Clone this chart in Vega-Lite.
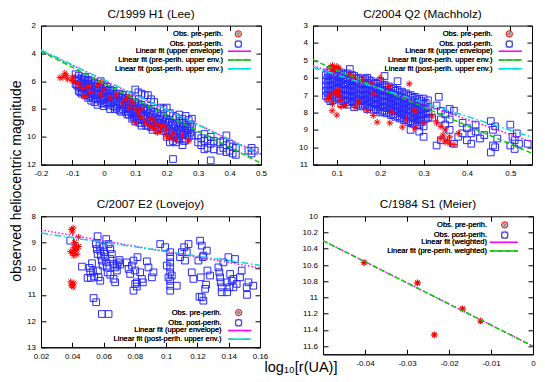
{
"$schema": "https://vega.github.io/schema/vega-lite/v6.json",
"background": "white",
"padding": {"left": 9, "top": 7.6, "right": 0, "bottom": 0},
"config": {
  "font": "Liberation Sans",
  "view": {"stroke": "#000000", "strokeWidth": 1},
  "axis": {"domainColor": "#000000", "domainWidth": 1, "tickColor": "#000000", "tickWidth": 1, "tickSize": -5, "labelColor": "#000000", "labelFontSize": 8, "labelFont": "Liberation Sans", "labelFlush": false, "labelOverlap": false, "labelBound": false, "grid": false, "titleFontWeight": "normal", "titleColor": "#000000", "titleFont": "Liberation Sans"},
  "axisX": {"labelPadding": 10},
  "axisY": {"labelPadding": 10.5},
  "legend": {"labelFontSize": 7.5, "labelColor": "#000000", "labelFont": "Liberation Sans", "labelFontWeight": "normal", "labelAlign": "right", "padding": 0, "rowPadding": 0.67, "symbolStrokeWidth": 1, "orient": "none"},
  "title": {"fontSize": 11.8, "fontWeight": "normal", "color": "#000000", "anchor": "middle", "baseline": "alphabetic", "offset": 1, "font": "Liberation Sans"}
},
"datasets": {
"d1": [
{"x":-0.14,"y":5.75,"s":"pre"},{"x":-0.13,"y":5.72,"s":"pre"},{"x":-0.12,"y":5.6,"s":"pre"},{"x":-0.124,"y":5.43,"s":"pre"},{"x":-0.115,"y":5.85,"s":"pre"},{"x":-0.1,"y":5.7,"s":"pre"},{"x":-0.1,"y":5.95,"s":"pre"},{"x":-0.09,"y":6.1,"s":"pre"},{"x":-0.08,"y":6.2,"s":"pre"},{"x":-0.07,"y":6.5,"s":"pre"},{"x":-0.06,"y":7.1,"s":"pre"},{"x":-0.05,"y":6.4,"s":"pre"},{"x":-0.04,"y":6.8,"s":"pre"},{"x":-0.02,"y":6.3,"s":"pre"},{"x":-0.01,"y":6.08,"s":"pre"},{"x":-0.01,"y":7.0,"s":"pre"},{"x":0.0,"y":6.6,"s":"pre"},{"x":0.02,"y":7.2,"s":"pre"},{"x":0.04,"y":7.0,"s":"pre"},{"x":0.06,"y":7.6,"s":"pre"},{"x":0.07,"y":7.3,"s":"pre"},{"x":0.08,"y":7.9,"s":"pre"},{"x":0.08,"y":7.1,"s":"pre"},{"x":0.09,"y":7.5,"s":"pre"},{"x":0.1,"y":9.0,"s":"pre"},{"x":0.1,"y":8.0,"s":"pre"},{"x":0.11,"y":8.3,"s":"pre"},{"x":0.12,"y":8.6,"s":"pre"},{"x":0.12,"y":8.0,"s":"pre"},{"x":0.13,"y":8.9,"s":"pre"},{"x":0.14,"y":9.1,"s":"pre"},{"x":0.15,"y":9.3,"s":"pre"},{"x":0.15,"y":8.7,"s":"pre"},{"x":0.16,"y":9.4,"s":"pre"},{"x":0.16,"y":8.9,"s":"pre"},{"x":0.17,"y":9.7,"s":"pre"},{"x":0.17,"y":9.1,"s":"pre"},{"x":0.18,"y":9.6,"s":"pre"},{"x":0.18,"y":9.3,"s":"pre"},{"x":0.19,"y":9.2,"s":"pre"},{"x":0.2,"y":9.5,"s":"pre"},{"x":0.2,"y":10.0,"s":"pre"},{"x":0.21,"y":10.1,"s":"pre"},{"x":0.22,"y":9.8,"s":"pre"},{"x":0.23,"y":10.2,"s":"pre"},{"x":0.25,"y":9.9,"s":"pre"},{"x":0.27,"y":10.3,"s":"pre"},
{"x":-0.09,"y":5.5,"s":"post"},{"x":-0.09,"y":5.9,"s":"post"},{"x":-0.09,"y":6.2,"s":"post"},
{"x":-0.085,"y":5.8,"s":"post"},{"x":-0.085,"y":6.3,"s":"post"},
{"x":-0.08,"y":5.6,"s":"post"},{"x":-0.08,"y":6.0,"s":"post"},{"x":-0.08,"y":6.4,"s":"post"},{"x":-0.08,"y":6.7,"s":"post"},
{"x":-0.075,"y":6.3,"s":"post"},{"x":-0.075,"y":6.8,"s":"post"},
{"x":-0.07,"y":5.8,"s":"post"},{"x":-0.07,"y":6.1,"s":"post"},{"x":-0.07,"y":6.5,"s":"post"},{"x":-0.07,"y":6.9,"s":"post"},
{"x":-0.065,"y":5.9,"s":"post"},{"x":-0.065,"y":6.4,"s":"post"},{"x":-0.065,"y":6.8,"s":"post"},
{"x":-0.06,"y":5.7,"s":"post"},{"x":-0.06,"y":6.2,"s":"post"},{"x":-0.06,"y":6.6,"s":"post"},{"x":-0.06,"y":7.0,"s":"post"},
{"x":-0.055,"y":6.0,"s":"post"},{"x":-0.055,"y":6.9,"s":"post"},
{"x":-0.05,"y":5.9,"s":"post"},{"x":-0.05,"y":6.3,"s":"post"},{"x":-0.05,"y":6.8,"s":"post"},{"x":-0.05,"y":7.2,"s":"post"},
{"x":-0.045,"y":6.2,"s":"post"},{"x":-0.045,"y":6.6,"s":"post"},{"x":-0.045,"y":7.1,"s":"post"},
{"x":-0.04,"y":6.0,"s":"post"},{"x":-0.04,"y":6.4,"s":"post"},{"x":-0.04,"y":6.9,"s":"post"},{"x":-0.04,"y":7.4,"s":"post"},
{"x":-0.035,"y":6.3,"s":"post"},{"x":-0.035,"y":7.2,"s":"post"},
{"x":-0.03,"y":6.1,"s":"post"},{"x":-0.03,"y":6.6,"s":"post"},{"x":-0.03,"y":7.0,"s":"post"},{"x":-0.03,"y":7.5,"s":"post"},
{"x":-0.025,"y":6.4,"s":"post"},{"x":-0.025,"y":6.9,"s":"post"},{"x":-0.025,"y":7.3,"s":"post"},
{"x":-0.02,"y":6.2,"s":"post"},{"x":-0.02,"y":6.7,"s":"post"},{"x":-0.02,"y":7.2,"s":"post"},{"x":-0.02,"y":7.7,"s":"post"},
{"x":-0.015,"y":6.5,"s":"post"},{"x":-0.015,"y":7.0,"s":"post"},
{"x":-0.01,"y":6.0,"s":"post"},{"x":-0.01,"y":6.5,"s":"post"},{"x":-0.01,"y":6.9,"s":"post"},{"x":-0.01,"y":7.4,"s":"post"},
{"x":-0.005,"y":6.7,"s":"post"},{"x":-0.005,"y":7.2,"s":"post"},{"x":-0.005,"y":7.6,"s":"post"},
{"x":0.0,"y":6.3,"s":"post"},{"x":0.0,"y":6.8,"s":"post"},{"x":0.0,"y":7.3,"s":"post"},{"x":0.0,"y":7.8,"s":"post"},
{"x":0.005,"y":6.6,"s":"post"},{"x":0.005,"y":7.1,"s":"post"},{"x":0.005,"y":7.6,"s":"post"},
{"x":0.01,"y":6.4,"s":"post"},{"x":0.01,"y":6.9,"s":"post"},{"x":0.01,"y":7.5,"s":"post"},
{"x":0.015,"y":6.7,"s":"post"},{"x":0.015,"y":7.2,"s":"post"},{"x":0.015,"y":7.7,"s":"post"},
{"x":0.02,"y":6.6,"s":"post"},{"x":0.02,"y":7.1,"s":"post"},{"x":0.02,"y":7.6,"s":"post"},{"x":0.02,"y":8.0,"s":"post"},
{"x":0.025,"y":6.9,"s":"post"},{"x":0.025,"y":7.4,"s":"post"},
{"x":0.03,"y":6.7,"s":"post"},{"x":0.03,"y":7.2,"s":"post"},{"x":0.03,"y":7.8,"s":"post"},
{"x":0.035,"y":7.0,"s":"post"},{"x":0.035,"y":7.5,"s":"post"},{"x":0.035,"y":8.0,"s":"post"},
{"x":0.04,"y":6.9,"s":"post"},{"x":0.04,"y":7.4,"s":"post"},{"x":0.04,"y":7.9,"s":"post"},
{"x":0.045,"y":7.1,"s":"post"},{"x":0.045,"y":7.7,"s":"post"},
{"x":0.05,"y":6.9,"s":"post"},{"x":0.05,"y":7.5,"s":"post"},{"x":0.05,"y":8.1,"s":"post"},
{"x":0.055,"y":7.2,"s":"post"},{"x":0.055,"y":7.7,"s":"post"},{"x":0.055,"y":8.2,"s":"post"},
{"x":0.06,"y":7.0,"s":"post"},{"x":0.06,"y":7.6,"s":"post"},{"x":0.06,"y":8.0,"s":"post"},
{"x":0.065,"y":7.3,"s":"post"},{"x":0.065,"y":7.9,"s":"post"},
{"x":0.07,"y":7.2,"s":"post"},{"x":0.07,"y":7.7,"s":"post"},{"x":0.07,"y":8.2,"s":"post"},
{"x":0.075,"y":7.4,"s":"post"},{"x":0.075,"y":7.9,"s":"post"},{"x":0.075,"y":8.4,"s":"post"},
{"x":0.08,"y":7.0,"s":"post"},{"x":0.08,"y":7.5,"s":"post"},{"x":0.08,"y":8.0,"s":"post"},{"x":0.08,"y":8.4,"s":"post"},
{"x":0.085,"y":7.7,"s":"post"},{"x":0.085,"y":8.2,"s":"post"},
{"x":0.09,"y":7.3,"s":"post"},{"x":0.09,"y":7.8,"s":"post"},{"x":0.09,"y":8.3,"s":"post"},{"x":0.09,"y":8.7,"s":"post"},
{"x":0.095,"y":7.6,"s":"post"},{"x":0.095,"y":8.1,"s":"post"},{"x":0.095,"y":8.6,"s":"post"},
{"x":0.1,"y":6.6,"s":"post"},{"x":0.1,"y":7.5,"s":"post"},{"x":0.1,"y":8.0,"s":"post"},{"x":0.1,"y":8.5,"s":"post"},{"x":0.1,"y":8.9,"s":"post"},
{"x":0.105,"y":7.8,"s":"post"},{"x":0.105,"y":8.3,"s":"post"},{"x":0.105,"y":8.7,"s":"post"},
{"x":0.11,"y":6.8,"s":"post"},{"x":0.11,"y":7.6,"s":"post"},{"x":0.11,"y":8.2,"s":"post"},{"x":0.11,"y":8.7,"s":"post"},
{"x":0.115,"y":7.9,"s":"post"},{"x":0.115,"y":8.4,"s":"post"},{"x":0.115,"y":9.0,"s":"post"},
{"x":0.12,"y":6.9,"s":"post"},{"x":0.12,"y":7.7,"s":"post"},{"x":0.12,"y":8.3,"s":"post"},{"x":0.12,"y":8.8,"s":"post"},{"x":0.12,"y":9.2,"s":"post"},
{"x":0.125,"y":8.0,"s":"post"},{"x":0.125,"y":8.6,"s":"post"},
{"x":0.13,"y":7.0,"s":"post"},{"x":0.13,"y":7.9,"s":"post"},{"x":0.13,"y":8.5,"s":"post"},{"x":0.13,"y":9.0,"s":"post"},
{"x":0.135,"y":8.1,"s":"post"},{"x":0.135,"y":8.7,"s":"post"},{"x":0.135,"y":9.2,"s":"post"},
{"x":0.14,"y":7.0,"s":"post"},{"x":0.14,"y":8.0,"s":"post"},{"x":0.14,"y":8.6,"s":"post"},{"x":0.14,"y":9.2,"s":"post"},
{"x":0.145,"y":8.3,"s":"post"},{"x":0.145,"y":8.9,"s":"post"},
{"x":0.15,"y":7.3,"s":"post"},{"x":0.15,"y":8.1,"s":"post"},{"x":0.15,"y":8.8,"s":"post"},{"x":0.15,"y":9.3,"s":"post"},
{"x":0.155,"y":8.4,"s":"post"},{"x":0.155,"y":9.0,"s":"post"},{"x":0.155,"y":9.5,"s":"post"},
{"x":0.16,"y":7.5,"s":"post"},{"x":0.16,"y":8.2,"s":"post"},{"x":0.16,"y":8.9,"s":"post"},
{"x":0.165,"y":8.6,"s":"post"},{"x":0.165,"y":9.2,"s":"post"},
{"x":0.17,"y":8.3,"s":"post"},{"x":0.17,"y":9.0,"s":"post"},{"x":0.17,"y":9.5,"s":"post"},
{"x":0.175,"y":8.7,"s":"post"},{"x":0.175,"y":9.3,"s":"post"},
{"x":0.18,"y":7.9,"s":"post"},{"x":0.18,"y":8.5,"s":"post"},{"x":0.18,"y":9.1,"s":"post"},
{"x":0.185,"y":8.8,"s":"post"},{"x":0.185,"y":9.4,"s":"post"},
{"x":0.19,"y":8.0,"s":"post"},{"x":0.19,"y":8.6,"s":"post"},{"x":0.19,"y":9.2,"s":"post"},
{"x":0.195,"y":8.9,"s":"post"},{"x":0.195,"y":9.6,"s":"post"},
{"x":0.2,"y":7.9,"s":"post"},{"x":0.2,"y":8.7,"s":"post"},{"x":0.2,"y":9.4,"s":"post"},{"x":0.2,"y":10.0,"s":"post"},
{"x":0.205,"y":9.0,"s":"post"},{"x":0.205,"y":9.7,"s":"post"},
{"x":0.21,"y":8.3,"s":"post"},{"x":0.21,"y":8.9,"s":"post"},{"x":0.21,"y":9.6,"s":"post"},{"x":0.21,"y":10.4,"s":"post"},
{"x":0.215,"y":9.2,"s":"post"},{"x":0.215,"y":9.9,"s":"post"},
{"x":0.22,"y":8.5,"s":"post"},{"x":0.22,"y":9.1,"s":"post"},{"x":0.22,"y":9.7,"s":"post"},{"x":0.22,"y":10.3,"s":"post"},{"x":0.22,"y":11.6,"s":"post"},
{"x":0.225,"y":9.4,"s":"post"},{"x":0.225,"y":10.0,"s":"post"},
{"x":0.23,"y":8.6,"s":"post"},{"x":0.23,"y":9.2,"s":"post"},{"x":0.23,"y":9.8,"s":"post"},{"x":0.23,"y":10.4,"s":"post"},
{"x":0.235,"y":9.5,"s":"post"},{"x":0.235,"y":10.1,"s":"post"},
{"x":0.24,"y":8.4,"s":"post"},{"x":0.24,"y":9.0,"s":"post"},{"x":0.24,"y":9.6,"s":"post"},{"x":0.24,"y":10.2,"s":"post"},
{"x":0.245,"y":9.3,"s":"post"},{"x":0.245,"y":9.8,"s":"post"},
{"x":0.25,"y":8.7,"s":"post"},{"x":0.25,"y":9.3,"s":"post"},{"x":0.25,"y":9.9,"s":"post"},{"x":0.25,"y":10.6,"s":"post"},
{"x":0.255,"y":9.0,"s":"post"},{"x":0.255,"y":9.6,"s":"post"},{"x":0.255,"y":10.3,"s":"post"},
{"x":0.26,"y":8.5,"s":"post"},{"x":0.26,"y":9.1,"s":"post"},{"x":0.26,"y":9.7,"s":"post"},{"x":0.26,"y":10.2,"s":"post"},
{"x":0.265,"y":9.4,"s":"post"},{"x":0.265,"y":9.9,"s":"post"},
{"x":0.27,"y":8.8,"s":"post"},{"x":0.27,"y":9.4,"s":"post"},{"x":0.27,"y":10.0,"s":"post"},
{"x":0.275,"y":9.1,"s":"post"},{"x":0.275,"y":9.7,"s":"post"},
{"x":0.28,"y":8.7,"s":"post"},{"x":0.28,"y":9.3,"s":"post"},{"x":0.28,"y":9.9,"s":"post"},
{"x":0.3,"y":9.9,"s":"post"},{"x":0.3,"y":10.4,"s":"post"},
{"x":0.31,"y":10.1,"s":"post"},{"x":0.31,"y":10.6,"s":"post"},
{"x":0.32,"y":9.8,"s":"post"},{"x":0.32,"y":10.3,"s":"post"},{"x":0.32,"y":10.9,"s":"post"},
{"x":0.33,"y":10.2,"s":"post"},{"x":0.33,"y":10.8,"s":"post"},
{"x":0.34,"y":10.0,"s":"post"},{"x":0.34,"y":10.5,"s":"post"},{"x":0.34,"y":11.7,"s":"post"},
{"x":0.35,"y":10.3,"s":"post"},{"x":0.35,"y":10.9,"s":"post"},
{"x":0.37,"y":10.4,"s":"post"},{"x":0.37,"y":11.0,"s":"post"},
{"x":0.38,"y":10.3,"s":"post"},{"x":0.38,"y":10.8,"s":"post"},
{"x":0.39,"y":9.9,"s":"post"},{"x":0.39,"y":10.6,"s":"post"},{"x":0.39,"y":11.1,"s":"post"},
{"x":0.4,"y":10.5,"s":"post"},{"x":0.4,"y":11.0,"s":"post"},
{"x":0.41,"y":10.7,"s":"post"},{"x":0.41,"y":11.2,"s":"post"},
{"x":0.42,"y":10.8,"s":"post"},{"x":0.42,"y":11.3,"s":"post"},
{"x":0.46,"y":11.0,"s":"post"},{"x":0.47,"y":10.8,"s":"post"},{"x":0.47,"y":11.2,"s":"post"},{"x":0.48,"y":11.0,"s":"post"}
],
"f1": [
{"x":-0.2,"y":3.8,"f":"Linear fit (upper envelope)"},{"x":0.5,"y":11.25,"f":"Linear fit (upper envelope)"},
{"x":-0.2,"y":3.85,"f":"Linear fit (pre-perih. upper env.)"},{"x":0.5,"y":11.9,"f":"Linear fit (pre-perih. upper env.)"},
{"x":-0.2,"y":3.75,"f":"Linear fit (post-perih. upper env.)"},{"x":0.5,"y":11.3,"f":"Linear fit (post-perih. upper env.)"}
],
"d2": [
{"x":0.085,"y":5.4,"s":"pre"},{"x":0.09,"y":5.3,"s":"pre"},{"x":0.095,"y":5.5,"s":"pre"},{"x":0.1,"y":5.35,"s":"pre"},{"x":0.092,"y":5.6,"s":"pre"},{"x":0.105,"y":5.45,"s":"pre"},{"x":0.097,"y":6.8,"s":"pre"},{"x":0.102,"y":6.9,"s":"pre"},{"x":0.105,"y":7.0,"s":"pre"},{"x":0.098,"y":6.95,"s":"pre"},{"x":0.104,"y":6.75,"s":"pre"},{"x":0.1,"y":8.15,"s":"pre"},{"x":0.089,"y":7.9,"s":"pre"},{"x":0.11,"y":7.66,"s":"pre"},{"x":0.142,"y":7.7,"s":"pre"},{"x":0.12,"y":7.6,"s":"pre"},{"x":0.09,"y":7.5,"s":"pre"},{"x":0.11,"y":7.3,"s":"pre"},{"x":0.15,"y":7.4,"s":"pre"},{"x":0.17,"y":7.9,"s":"pre"},{"x":0.184,"y":8.17,"s":"pre"},{"x":0.193,"y":8.56,"s":"pre"},{"x":0.222,"y":8.6,"s":"pre"},{"x":0.227,"y":7.98,"s":"pre"},{"x":0.251,"y":8.84,"s":"pre"},{"x":0.26,"y":8.4,"s":"pre"},{"x":0.267,"y":6.35,"s":"pre"},{"x":0.185,"y":6.93,"s":"pre"},{"x":0.2,"y":6.0,"s":"pre"},{"x":0.22,"y":6.5,"s":"pre"},{"x":0.28,"y":8.9,"s":"pre"},{"x":0.3,"y":8.6,"s":"pre"},{"x":0.32,"y":8.2,"s":"pre"},{"x":0.28,"y":7.9,"s":"pre"},{"x":0.34,"y":9.5,"s":"pre"},{"x":0.35,"y":9.7,"s":"pre"},{"x":0.36,"y":9.8,"s":"pre"},{"x":0.37,"y":9.85,"s":"pre"},{"x":0.345,"y":9.3,"s":"pre"},{"x":0.355,"y":9.6,"s":"pre"},{"x":0.36,"y":9.4,"s":"pre"},{"x":0.38,"y":9.2,"s":"pre"},{"x":0.34,"y":8.8,"s":"pre"},{"x":0.35,"y":9.0,"s":"pre"},{"x":0.33,"y":8.6,"s":"pre"},{"x":0.13,"y":5.8,"s":"pre"},{"x":0.14,"y":6.0,"s":"pre"},{"x":0.16,"y":6.1,"s":"pre"},{"x":0.18,"y":6.3,"s":"pre"},{"x":0.08,"y":7.2,"s":"pre"},{"x":0.085,"y":7.0,"s":"pre"},
{"x":0.075,"y":5.85,"s":"post"},{"x":0.075,"y":6.15,"s":"post"},{"x":0.075,"y":6.45,"s":"post"},{"x":0.075,"y":6.75,"s":"post"},{"x":0.075,"y":7.05,"s":"post"},
{"x":0.08,"y":5.7,"s":"post"},{"x":0.08,"y":6.0,"s":"post"},{"x":0.08,"y":6.3,"s":"post"},{"x":0.08,"y":6.6,"s":"post"},{"x":0.08,"y":6.9,"s":"post"},{"x":0.08,"y":7.2,"s":"post"},
{"x":0.085,"y":5.55,"s":"post"},{"x":0.085,"y":5.85,"s":"post"},{"x":0.085,"y":6.15,"s":"post"},{"x":0.085,"y":6.45,"s":"post"},{"x":0.085,"y":6.75,"s":"post"},{"x":0.085,"y":7.05,"s":"post"},{"x":0.085,"y":7.35,"s":"post"},
{"x":0.09,"y":5.8,"s":"post"},{"x":0.09,"y":6.1,"s":"post"},{"x":0.09,"y":6.4,"s":"post"},{"x":0.09,"y":6.7,"s":"post"},{"x":0.09,"y":7.0,"s":"post"},{"x":0.09,"y":7.3,"s":"post"},
{"x":0.095,"y":5.65,"s":"post"},{"x":0.095,"y":5.95,"s":"post"},{"x":0.095,"y":6.25,"s":"post"},{"x":0.095,"y":6.55,"s":"post"},{"x":0.095,"y":6.85,"s":"post"},{"x":0.095,"y":7.15,"s":"post"},
{"x":0.1,"y":5.6,"s":"post"},{"x":0.1,"y":5.9,"s":"post"},{"x":0.1,"y":6.2,"s":"post"},{"x":0.1,"y":6.5,"s":"post"},{"x":0.1,"y":7.1,"s":"post"},
{"x":0.105,"y":5.75,"s":"post"},{"x":0.105,"y":6.05,"s":"post"},{"x":0.105,"y":6.35,"s":"post"},{"x":0.105,"y":6.65,"s":"post"},{"x":0.105,"y":6.95,"s":"post"},{"x":0.105,"y":7.25,"s":"post"},
{"x":0.11,"y":5.7,"s":"post"},{"x":0.11,"y":6.0,"s":"post"},{"x":0.11,"y":6.3,"s":"post"},{"x":0.11,"y":6.6,"s":"post"},{"x":0.11,"y":6.9,"s":"post"},{"x":0.11,"y":7.2,"s":"post"},{"x":0.11,"y":7.5,"s":"post"},
{"x":0.115,"y":5.85,"s":"post"},{"x":0.115,"y":6.15,"s":"post"},{"x":0.115,"y":6.45,"s":"post"},{"x":0.115,"y":6.75,"s":"post"},{"x":0.115,"y":7.05,"s":"post"},{"x":0.115,"y":7.35,"s":"post"},
{"x":0.12,"y":5.8,"s":"post"},{"x":0.12,"y":6.1,"s":"post"},{"x":0.12,"y":6.4,"s":"post"},{"x":0.12,"y":6.7,"s":"post"},{"x":0.12,"y":7.0,"s":"post"},{"x":0.12,"y":7.3,"s":"post"},
{"x":0.125,"y":5.75,"s":"post"},{"x":0.125,"y":6.05,"s":"post"},{"x":0.125,"y":6.35,"s":"post"},{"x":0.125,"y":6.65,"s":"post"},{"x":0.125,"y":6.95,"s":"post"},{"x":0.125,"y":7.25,"s":"post"},{"x":0.125,"y":7.55,"s":"post"},
{"x":0.13,"y":5.5,"s":"post"},{"x":0.13,"y":5.9,"s":"post"},{"x":0.13,"y":6.2,"s":"post"},{"x":0.13,"y":6.5,"s":"post"},{"x":0.13,"y":6.8,"s":"post"},{"x":0.13,"y":7.1,"s":"post"},{"x":0.13,"y":7.4,"s":"post"},
{"x":0.135,"y":5.85,"s":"post"},{"x":0.135,"y":6.15,"s":"post"},{"x":0.135,"y":6.45,"s":"post"},{"x":0.135,"y":6.75,"s":"post"},{"x":0.135,"y":7.05,"s":"post"},{"x":0.135,"y":7.35,"s":"post"},
{"x":0.14,"y":5.9,"s":"post"},{"x":0.14,"y":6.2,"s":"post"},{"x":0.14,"y":6.5,"s":"post"},{"x":0.14,"y":6.8,"s":"post"},{"x":0.14,"y":7.1,"s":"post"},{"x":0.14,"y":7.4,"s":"post"},{"x":0.14,"y":7.7,"s":"post"},
{"x":0.145,"y":6.05,"s":"post"},{"x":0.145,"y":6.35,"s":"post"},{"x":0.145,"y":6.65,"s":"post"},{"x":0.145,"y":6.95,"s":"post"},{"x":0.145,"y":7.25,"s":"post"},{"x":0.145,"y":7.55,"s":"post"},
{"x":0.15,"y":6.0,"s":"post"},{"x":0.15,"y":6.3,"s":"post"},{"x":0.15,"y":6.6,"s":"post"},{"x":0.15,"y":6.9,"s":"post"},{"x":0.15,"y":7.2,"s":"post"},{"x":0.15,"y":7.5,"s":"post"},
{"x":0.155,"y":6.15,"s":"post"},{"x":0.155,"y":6.45,"s":"post"},{"x":0.155,"y":6.75,"s":"post"},{"x":0.155,"y":7.05,"s":"post"},{"x":0.155,"y":7.35,"s":"post"},{"x":0.155,"y":7.65,"s":"post"},
{"x":0.16,"y":6.1,"s":"post"},{"x":0.16,"y":6.4,"s":"post"},{"x":0.16,"y":6.7,"s":"post"},{"x":0.16,"y":7.0,"s":"post"},{"x":0.16,"y":7.3,"s":"post"},{"x":0.16,"y":7.6,"s":"post"},
{"x":0.165,"y":6.05,"s":"post"},{"x":0.165,"y":6.35,"s":"post"},{"x":0.165,"y":6.65,"s":"post"},{"x":0.165,"y":6.95,"s":"post"},{"x":0.165,"y":7.25,"s":"post"},{"x":0.165,"y":7.55,"s":"post"},
{"x":0.17,"y":6.0,"s":"post"},{"x":0.17,"y":6.3,"s":"post"},{"x":0.17,"y":6.6,"s":"post"},{"x":0.17,"y":6.9,"s":"post"},{"x":0.17,"y":7.2,"s":"post"},{"x":0.17,"y":7.5,"s":"post"},{"x":0.17,"y":7.8,"s":"post"},
{"x":0.175,"y":6.15,"s":"post"},{"x":0.175,"y":6.45,"s":"post"},{"x":0.175,"y":6.75,"s":"post"},{"x":0.175,"y":7.05,"s":"post"},{"x":0.175,"y":7.35,"s":"post"},{"x":0.175,"y":7.65,"s":"post"},
{"x":0.18,"y":6.2,"s":"post"},{"x":0.18,"y":6.5,"s":"post"},{"x":0.18,"y":6.8,"s":"post"},{"x":0.18,"y":7.1,"s":"post"},{"x":0.18,"y":7.4,"s":"post"},{"x":0.18,"y":7.7,"s":"post"},
{"x":0.185,"y":6.35,"s":"post"},{"x":0.185,"y":6.65,"s":"post"},{"x":0.185,"y":6.95,"s":"post"},{"x":0.185,"y":7.25,"s":"post"},{"x":0.185,"y":7.55,"s":"post"},{"x":0.185,"y":7.85,"s":"post"},
{"x":0.19,"y":6.3,"s":"post"},{"x":0.19,"y":6.6,"s":"post"},{"x":0.19,"y":6.9,"s":"post"},{"x":0.19,"y":7.2,"s":"post"},{"x":0.19,"y":7.5,"s":"post"},{"x":0.19,"y":7.8,"s":"post"},
{"x":0.195,"y":6.35,"s":"post"},{"x":0.195,"y":6.65,"s":"post"},{"x":0.195,"y":6.95,"s":"post"},{"x":0.195,"y":7.25,"s":"post"},{"x":0.195,"y":7.55,"s":"post"},{"x":0.195,"y":7.85,"s":"post"},
{"x":0.2,"y":6.2,"s":"post"},{"x":0.2,"y":6.5,"s":"post"},{"x":0.2,"y":6.8,"s":"post"},{"x":0.2,"y":7.1,"s":"post"},{"x":0.2,"y":7.4,"s":"post"},{"x":0.2,"y":7.7,"s":"post"},{"x":0.2,"y":8.0,"s":"post"},
{"x":0.205,"y":6.45,"s":"post"},{"x":0.205,"y":6.75,"s":"post"},{"x":0.205,"y":7.05,"s":"post"},{"x":0.205,"y":7.35,"s":"post"},{"x":0.205,"y":7.65,"s":"post"},{"x":0.205,"y":7.95,"s":"post"},
{"x":0.21,"y":5.9,"s":"post"},{"x":0.21,"y":6.4,"s":"post"},{"x":0.21,"y":6.7,"s":"post"},{"x":0.21,"y":7.0,"s":"post"},{"x":0.21,"y":7.3,"s":"post"},{"x":0.21,"y":7.6,"s":"post"},{"x":0.21,"y":7.9,"s":"post"},
{"x":0.215,"y":6.55,"s":"post"},{"x":0.215,"y":6.85,"s":"post"},{"x":0.215,"y":7.15,"s":"post"},{"x":0.215,"y":7.45,"s":"post"},{"x":0.215,"y":7.75,"s":"post"},{"x":0.215,"y":8.05,"s":"post"},
{"x":0.22,"y":6.5,"s":"post"},{"x":0.22,"y":6.8,"s":"post"},{"x":0.22,"y":7.1,"s":"post"},{"x":0.22,"y":7.4,"s":"post"},{"x":0.22,"y":7.7,"s":"post"},{"x":0.22,"y":8.0,"s":"post"},
{"x":0.225,"y":6.65,"s":"post"},{"x":0.225,"y":6.95,"s":"post"},{"x":0.225,"y":7.25,"s":"post"},{"x":0.225,"y":7.55,"s":"post"},{"x":0.225,"y":7.85,"s":"post"},{"x":0.225,"y":8.15,"s":"post"},
{"x":0.23,"y":6.6,"s":"post"},{"x":0.23,"y":6.9,"s":"post"},{"x":0.23,"y":7.2,"s":"post"},{"x":0.23,"y":7.5,"s":"post"},{"x":0.23,"y":7.8,"s":"post"},{"x":0.23,"y":8.1,"s":"post"},
{"x":0.235,"y":6.75,"s":"post"},{"x":0.235,"y":7.05,"s":"post"},{"x":0.235,"y":7.35,"s":"post"},{"x":0.235,"y":7.65,"s":"post"},{"x":0.235,"y":7.95,"s":"post"},{"x":0.235,"y":8.25,"s":"post"},
{"x":0.24,"y":6.2,"s":"post"},{"x":0.24,"y":6.7,"s":"post"},{"x":0.24,"y":7.0,"s":"post"},{"x":0.24,"y":7.3,"s":"post"},{"x":0.24,"y":7.6,"s":"post"},{"x":0.24,"y":7.9,"s":"post"},{"x":0.24,"y":8.2,"s":"post"},
{"x":0.245,"y":6.85,"s":"post"},{"x":0.245,"y":7.15,"s":"post"},{"x":0.245,"y":7.45,"s":"post"},{"x":0.245,"y":7.75,"s":"post"},{"x":0.245,"y":8.05,"s":"post"},{"x":0.245,"y":8.35,"s":"post"},
{"x":0.25,"y":6.8,"s":"post"},{"x":0.25,"y":7.1,"s":"post"},{"x":0.25,"y":7.4,"s":"post"},{"x":0.25,"y":7.7,"s":"post"},{"x":0.25,"y":8.0,"s":"post"},{"x":0.25,"y":8.3,"s":"post"},
{"x":0.255,"y":6.95,"s":"post"},{"x":0.255,"y":7.25,"s":"post"},{"x":0.255,"y":7.55,"s":"post"},{"x":0.255,"y":7.85,"s":"post"},{"x":0.255,"y":8.15,"s":"post"},{"x":0.255,"y":8.45,"s":"post"},
{"x":0.26,"y":6.9,"s":"post"},{"x":0.26,"y":7.2,"s":"post"},{"x":0.26,"y":7.5,"s":"post"},{"x":0.26,"y":7.8,"s":"post"},{"x":0.26,"y":8.1,"s":"post"},{"x":0.26,"y":8.4,"s":"post"},
{"x":0.265,"y":7.05,"s":"post"},{"x":0.265,"y":7.35,"s":"post"},{"x":0.265,"y":7.65,"s":"post"},{"x":0.265,"y":7.95,"s":"post"},{"x":0.265,"y":8.25,"s":"post"},{"x":0.265,"y":8.55,"s":"post"},
{"x":0.27,"y":7.0,"s":"post"},{"x":0.27,"y":7.3,"s":"post"},{"x":0.27,"y":7.6,"s":"post"},{"x":0.27,"y":7.9,"s":"post"},{"x":0.27,"y":8.2,"s":"post"},{"x":0.27,"y":8.5,"s":"post"},{"x":0.27,"y":9.0,"s":"post"},
{"x":0.275,"y":7.15,"s":"post"},{"x":0.275,"y":7.45,"s":"post"},{"x":0.275,"y":7.75,"s":"post"},{"x":0.275,"y":8.05,"s":"post"},{"x":0.275,"y":8.35,"s":"post"},{"x":0.275,"y":8.65,"s":"post"},
{"x":0.28,"y":7.1,"s":"post"},{"x":0.28,"y":7.4,"s":"post"},{"x":0.28,"y":7.7,"s":"post"},{"x":0.28,"y":8.0,"s":"post"},{"x":0.28,"y":8.3,"s":"post"},{"x":0.28,"y":8.6,"s":"post"},
{"x":0.285,"y":7.25,"s":"post"},{"x":0.285,"y":7.55,"s":"post"},{"x":0.285,"y":7.85,"s":"post"},{"x":0.285,"y":8.15,"s":"post"},{"x":0.285,"y":8.45,"s":"post"},{"x":0.285,"y":8.75,"s":"post"},
{"x":0.29,"y":7.2,"s":"post"},{"x":0.29,"y":7.5,"s":"post"},{"x":0.29,"y":7.8,"s":"post"},{"x":0.29,"y":8.1,"s":"post"},{"x":0.29,"y":8.4,"s":"post"},{"x":0.29,"y":8.7,"s":"post"},{"x":0.29,"y":9.1,"s":"post"},
{"x":0.295,"y":7.35,"s":"post"},{"x":0.295,"y":7.65,"s":"post"},{"x":0.295,"y":7.95,"s":"post"},{"x":0.295,"y":8.25,"s":"post"},{"x":0.295,"y":8.55,"s":"post"},
{"x":0.3,"y":7.2,"s":"post"},{"x":0.3,"y":7.5,"s":"post"},{"x":0.3,"y":7.8,"s":"post"},{"x":0.3,"y":8.1,"s":"post"},{"x":0.3,"y":8.4,"s":"post"},{"x":0.3,"y":8.8,"s":"post"},{"x":0.3,"y":9.4,"s":"post"},
{"x":0.305,"y":7.45,"s":"post"},{"x":0.305,"y":7.75,"s":"post"},{"x":0.305,"y":8.05,"s":"post"},{"x":0.305,"y":8.35,"s":"post"},
{"x":0.31,"y":7.3,"s":"post"},{"x":0.31,"y":7.7,"s":"post"},{"x":0.31,"y":8.0,"s":"post"},{"x":0.31,"y":8.3,"s":"post"},
{"x":0.32,"y":8.3,"s":"post"},{"x":0.335,"y":7.1,"s":"post"},{"x":0.33,"y":7.6,"s":"post"},{"x":0.34,"y":7.9,"s":"post"},{"x":0.35,"y":8.1,"s":"post"},{"x":0.36,"y":7.8,"s":"post"},{"x":0.37,"y":7.9,"s":"post"},{"x":0.34,"y":8.4,"s":"post"},{"x":0.35,"y":8.7,"s":"post"},{"x":0.36,"y":9.0,"s":"post"},{"x":0.36,"y":8.4,"s":"post"},{"x":0.33,"y":9.9,"s":"post"},{"x":0.34,"y":9.6,"s":"post"},{"x":0.37,"y":9.8,"s":"post"},{"x":0.38,"y":9.4,"s":"post"},{"x":0.39,"y":9.2,"s":"post"},{"x":0.39,"y":8.6,"s":"post"},{"x":0.4,"y":8.9,"s":"post"},{"x":0.41,"y":9.2,"s":"post"},{"x":0.42,"y":8.7,"s":"post"},{"x":0.4,"y":9.6,"s":"post"},{"x":0.41,"y":9.8,"s":"post"},{"x":0.43,"y":9.5,"s":"post"},{"x":0.44,"y":9.3,"s":"post"},{"x":0.42,"y":9.1,"s":"post"},{"x":0.455,"y":8.5,"s":"post"},{"x":0.46,"y":9.0,"s":"post"},{"x":0.465,"y":8.8,"s":"post"},{"x":0.47,"y":9.5,"s":"post"},{"x":0.46,"y":9.9,"s":"post"},{"x":0.465,"y":10.0,"s":"post"},{"x":0.455,"y":10.3,"s":"post"},{"x":0.5,"y":8.7,"s":"post"},{"x":0.505,"y":9.4,"s":"post"},{"x":0.51,"y":9.6,"s":"post"},{"x":0.515,"y":9.2,"s":"post"},{"x":0.51,"y":10.1,"s":"post"},{"x":0.52,"y":9.8,"s":"post"},{"x":0.5,"y":9.9,"s":"post"},{"x":0.54,"y":9.8,"s":"post"}
],
"f2": [
{"x":0.045,"y":5.3,"f":"Linear fit (upper envelope)"},{"x":0.55,"y":9.7,"f":"Linear fit (upper envelope)"},
{"x":0.045,"y":4.98,"f":"Linear fit (pre-perih. upper env.)"},{"x":0.55,"y":10.35,"f":"Linear fit (pre-perih. upper env.)"},
{"x":0.045,"y":5.4,"f":"Linear fit (post-perih. upper env.)"},{"x":0.55,"y":9.42,"f":"Linear fit (post-perih. upper env.)"}
],
"d3": [
{"x":0.0395,"y":8.5,"s":"pre"},{"x":0.04,"y":8.6,"s":"pre"},{"x":0.0405,"y":8.45,"s":"pre"},{"x":0.039,"y":9.35,"s":"pre"},{"x":0.04,"y":9.4,"s":"pre"},{"x":0.041,"y":9.2,"s":"pre"},{"x":0.042,"y":9.1,"s":"pre"},{"x":0.042,"y":9.3,"s":"pre"},{"x":0.043,"y":9.25,"s":"pre"},{"x":0.043,"y":9.45,"s":"pre"},{"x":0.041,"y":9.5,"s":"pre"},{"x":0.0405,"y":9.35,"s":"pre"},{"x":0.044,"y":9.15,"s":"pre"},{"x":0.0415,"y":9.0,"s":"pre"},{"x":0.044,"y":8.8,"s":"pre"},{"x":0.039,"y":10.5,"s":"pre"},{"x":0.04,"y":10.6,"s":"pre"},{"x":0.0405,"y":10.7,"s":"pre"},{"x":0.041,"y":10.55,"s":"pre"},{"x":0.0395,"y":10.65,"s":"pre"},
{"x":0.0387,"y":8.93,"s":"post"},{"x":0.0462,"y":9.92,"s":"post"},{"x":0.0498,"y":10.35,"s":"post"},{"x":0.0519,"y":10.35,"s":"post"},{"x":0.0511,"y":9.97,"s":"post"},{"x":0.0515,"y":10.15,"s":"post"},{"x":0.0526,"y":9.79,"s":"post"},{"x":0.0532,"y":10.1,"s":"post"},{"x":0.054,"y":10.3,"s":"post"},{"x":0.0536,"y":11.12,"s":"post"},{"x":0.0553,"y":11.28,"s":"post"},{"x":0.0551,"y":9.06,"s":"post"},{"x":0.0557,"y":9.25,"s":"post"},{"x":0.0562,"y":9.44,"s":"post"},{"x":0.0564,"y":10.07,"s":"post"},{"x":0.0568,"y":10.33,"s":"post"},{"x":0.0562,"y":8.76,"s":"post"},{"x":0.0574,"y":9.12,"s":"post"},{"x":0.0579,"y":9.31,"s":"post"},{"x":0.0583,"y":9.5,"s":"post"},{"x":0.0589,"y":9.69,"s":"post"},{"x":0.0594,"y":9.88,"s":"post"},{"x":0.0579,"y":10.46,"s":"post"},{"x":0.06,"y":9.18,"s":"post"},{"x":0.0604,"y":9.37,"s":"post"},{"x":0.0611,"y":9.56,"s":"post"},{"x":0.0617,"y":9.76,"s":"post"},{"x":0.0621,"y":9.95,"s":"post"},{"x":0.0626,"y":10.14,"s":"post"},{"x":0.0589,"y":11.73,"s":"post"},{"x":0.0632,"y":11.73,"s":"post"},{"x":0.0617,"y":8.87,"s":"post"},{"x":0.0632,"y":9.06,"s":"post"},{"x":0.0643,"y":9.25,"s":"post"},{"x":0.0653,"y":9.44,"s":"post"},{"x":0.0643,"y":9.63,"s":"post"},{"x":0.0664,"y":9.82,"s":"post"},{"x":0.0674,"y":9.95,"s":"post"},{"x":0.0685,"y":10.07,"s":"post"},{"x":0.0696,"y":9.76,"s":"post"},{"x":0.0702,"y":9.67,"s":"post"},{"x":0.0706,"y":9.84,"s":"post"},{"x":0.0643,"y":10.23,"s":"post"},{"x":0.0664,"y":10.39,"s":"post"},{"x":0.0674,"y":10.52,"s":"post"},{"x":0.0685,"y":9.88,"s":"post"},{"x":0.0749,"y":9.76,"s":"post"},{"x":0.076,"y":10.01,"s":"post"},{"x":0.077,"y":10.2,"s":"post"},{"x":0.0781,"y":9.88,"s":"post"},{"x":0.0791,"y":9.69,"s":"post"},{"x":0.0802,"y":10.07,"s":"post"},{"x":0.0813,"y":10.52,"s":"post"},{"x":0.0817,"y":9.56,"s":"post"},{"x":0.0791,"y":10.84,"s":"post"},{"x":0.0802,"y":10.58,"s":"post"},{"x":0.0813,"y":10.68,"s":"post"},{"x":0.0834,"y":10.14,"s":"post"},{"x":0.0845,"y":10.39,"s":"post"},{"x":0.0851,"y":10.52,"s":"post"},{"x":0.0877,"y":9.72,"s":"post"},{"x":0.0887,"y":9.95,"s":"post"},{"x":0.0909,"y":10.33,"s":"post"},{"x":0.0919,"y":10.14,"s":"post"},{"x":0.0962,"y":9.06,"s":"post"},{"x":0.0994,"y":9.18,"s":"post"},{"x":0.1004,"y":9.88,"s":"post"},{"x":0.1015,"y":10.33,"s":"post"},{"x":0.1026,"y":9.95,"s":"post"},{"x":0.1026,"y":10.14,"s":"post"},{"x":0.1026,"y":9.37,"s":"post"},{"x":0.1026,"y":9.56,"s":"post"},{"x":0.1026,"y":9.76,"s":"post"},{"x":0.1026,"y":10.46,"s":"post"},{"x":0.1026,"y":10.65,"s":"post"},{"x":0.1026,"y":10.84,"s":"post"},{"x":0.1036,"y":10.26,"s":"post"},{"x":0.1068,"y":10.65,"s":"post"},{"x":0.1089,"y":9.56,"s":"post"},{"x":0.11,"y":9.37,"s":"post"},{"x":0.1115,"y":9.18,"s":"post"},{"x":0.1121,"y":9.69,"s":"post"},{"x":0.1132,"y":9.37,"s":"post"},{"x":0.1143,"y":9.06,"s":"post"},{"x":0.1164,"y":10.14,"s":"post"},{"x":0.1174,"y":10.39,"s":"post"},{"x":0.1217,"y":8.93,"s":"post"},{"x":0.1228,"y":9.12,"s":"post"},{"x":0.1234,"y":9.56,"s":"post"},{"x":0.1221,"y":10.33,"s":"post"},{"x":0.1213,"y":11.07,"s":"post"},{"x":0.1228,"y":11.09,"s":"post"},{"x":0.1238,"y":11.22,"s":"post"},{"x":0.1249,"y":10.77,"s":"post"},{"x":0.1255,"y":10.61,"s":"post"},{"x":0.1264,"y":10.07,"s":"post"},{"x":0.1281,"y":10.26,"s":"post"},{"x":0.1238,"y":9.5,"s":"post"},{"x":0.126,"y":9.31,"s":"post"},{"x":0.1206,"y":9.69,"s":"post"},{"x":0.1334,"y":9.95,"s":"post"},{"x":0.134,"y":10.14,"s":"post"},{"x":0.1345,"y":10.33,"s":"post"},{"x":0.1349,"y":10.52,"s":"post"},{"x":0.1355,"y":10.71,"s":"post"},{"x":0.1355,"y":10.9,"s":"post"},{"x":0.1366,"y":9.76,"s":"post"},{"x":0.1398,"y":9.56,"s":"post"},{"x":0.1409,"y":10.2,"s":"post"},{"x":0.1419,"y":10.46,"s":"post"},{"x":0.143,"y":10.71,"s":"post"},{"x":0.143,"y":10.39,"s":"post"},{"x":0.1451,"y":10.58,"s":"post"},{"x":0.1472,"y":10.33,"s":"post"},{"x":0.1483,"y":10.07,"s":"post"},{"x":0.1515,"y":10.71,"s":"post"},{"x":0.1526,"y":10.52,"s":"post"},{"x":0.1557,"y":10.65,"s":"post"},{"x":0.1387,"y":10.52,"s":"post"},{"x":0.1404,"y":10.71,"s":"post"},{"x":0.1517,"y":11.0,"s":"post"},{"x":0.144,"y":9.63,"s":"post"},{"x":0.139,"y":10.9,"s":"post"}
],
"f3": [
{"x":0.02,"y":8.52,"f":"Linear fit (upper envelope)"},{"x":0.16,"y":9.97,"f":"Linear fit (upper envelope)"},
{"x":0.02,"y":8.64,"f":"Linear fit (post-perih. upper env.)"},{"x":0.16,"y":9.87,"f":"Linear fit (post-perih. upper env.)"}
],
"d4": [
{"x":-0.0402,"y":10.57,"s":"pre"},{"x":-0.0275,"y":10.82,"s":"pre"},{"x":-0.0235,"y":11.46,"s":"pre"},{"x":-0.0168,"y":11.14,"s":"pre"},{"x":-0.0125,"y":11.29,"s":"pre"}
],
"f4": [
{"x":-0.05,"y":10.3,"f":"Linear fit (weighted)"},{"x":0,"y":11.6,"f":"Linear fit (weighted)"},
{"x":-0.05,"y":10.3,"f":"Linear fit (pre-perih. weighted)"},{"x":0,"y":11.6,"f":"Linear fit (pre-perih. weighted)"}
]
},
"bounds": "flush",
"spacing": 190.7,
"resolve": {"scale": {"color": "independent", "shape": "independent", "strokeDash": "independent"}},
"vconcat": [
{
"hconcat": [
{
"width": 220, "height": 139,
"title": {"text": "C/1999 H1 (Lee)"},
"layer": [
{"data": {"name": "d1"},
 "mark": {"type": "point", "filled": false, "size": 45, "strokeWidth": 1, "opacity": 1, "clip": true},
 "encoding": {
  "x": {"field": "x", "type": "quantitative", "scale": {"domain": [-0.2, 0.5], "nice": false, "zero": false}, "axis": {"values": [-0.2,-0.1,0,0.1,0.2,0.3,0.4,0.5], "format": "~g", "labelExpr": "replace(datum.label, '\u2212', '-')", "title": null}},
  "y": {"field": "y", "type": "quantitative", "scale": {"domain": [2, 12], "reverse": true, "nice": false, "zero": false}, "axis": {"values": [2,4,6,8,10,12], "format": "~g", "title": "observed heliocentric magnitude", "titleX": -20.4, "titleY": 155, "titleAngle": 270, "titleAlign": "center", "titleBaseline": "alphabetic", "titleFontSize": 14}},
  "order": {"field": "s", "type": "ordinal", "sort": "ascending"},
  "color": {"field": "s", "type": "nominal", "scale": {"domain": ["pre","post"], "range": ["#ff0000","#2828ff"]}, "legend": {"title": null, "legendX": 193.3, "legendY": 4.3, "rowPadding": -1.8, "labelOffset": -19.3, "symbolSize": 40, "labelExpr": "datum.value == 'pre' ? 'Obs. pre-perih.' : 'Obs. post-perih.'"}},
  "shape": {"field": "s", "type": "nominal", "scale": {"domain": ["pre","post"], "range": ["M-1,0L1,0M0,-1L0,1M-0.7,-0.7L0.7,0.7M-0.7,0.7L0.7,-0.7","square"]}, "legend": {"title": null, "legendX": 193.3, "legendY": 4.3, "rowPadding": -1.8, "labelOffset": -19.3, "symbolSize": 40, "labelExpr": "datum.value == 'pre' ? 'Obs. pre-perih.' : 'Obs. post-perih.'"}}
 }},
{"data": {"name": "f1"},
 "mark": {"type": "line", "strokeWidth": 1.5, "clip": true},
 "encoding": {
  "x": {"field": "x", "type": "quantitative", "scale": {"domain": [-0.2, 0.5], "nice": false, "zero": false}, "axis": {"orient": "top", "values": [-0.2,-0.1,0,0.1,0.2,0.3,0.4,0.5], "labels": false, "domain": false, "title": null}},
  "y": {"field": "y", "type": "quantitative", "scale": {"domain": [2, 12], "reverse": true, "nice": false, "zero": false}, "axis": {"orient": "right", "values": [2,4,6,8,10,12], "labels": false, "domain": false, "title": null}},
  "color": {"field": "f", "type": "nominal", "scale": {"domain": ["Linear fit (upper envelope)","Linear fit (pre-perih. upper env.)","Linear fit (post-perih. upper env.)"], "range": ["#ff00ff","#00cc00","#00dddd"]}, "legend": {"title": null, "legendX": 194.5, "legendY": 21.7, "labelOffset": -20.5, "symbolType": "M-3.54,0H3.54", "symbolSize": 42.25, "symbolStrokeWidth": 1.5}},
  "strokeDash": {"field": "f", "type": "nominal", "scale": {"domain": ["Linear fit (upper envelope)","Linear fit (pre-perih. upper env.)","Linear fit (post-perih. upper env.)"], "range": [[1.5,2],[5,3],[7,2.5,1.5,2.5]]}, "legend": {"title": null, "legendX": 194.5, "legendY": 21.7, "labelOffset": -20.5, "symbolType": "M-3.54,0H3.54", "symbolSize": 42.25, "symbolStrokeWidth": 1.5}}
 }}
],
"resolve": {"scale": {"color": "independent"}, "axis": {"x": "independent", "y": "independent"}}
},
{
"width": 219, "height": 139,
"title": {"text": "C/2004 Q2 (Machholz)"},
"layer": [
{"data": {"name": "d2"},
 "mark": {"type": "point", "filled": false, "size": 45, "strokeWidth": 1, "opacity": 1, "clip": true},
 "encoding": {
  "x": {"field": "x", "type": "quantitative", "scale": {"domain": [0.045, 0.55], "nice": false, "zero": false}, "axis": {"values": [0.1,0.2,0.3,0.4,0.5], "format": "~g", "title": null}},
  "y": {"field": "y", "type": "quantitative", "scale": {"domain": [3, 11], "reverse": true, "nice": false, "zero": false}, "axis": {"values": [3,4,5,6,7,8,9,10,11], "format": "~g", "title": null}},
  "order": {"field": "s", "type": "ordinal", "sort": "ascending"},
  "color": {"field": "s", "type": "nominal", "scale": {"domain": ["pre","post"], "range": ["#ff0000","#2828ff"]}, "legend": {"title": null, "legendX": 192.3, "legendY": 4.3, "rowPadding": -1.8, "labelOffset": -20.7, "symbolSize": 40, "labelExpr": "datum.value == 'pre' ? 'Obs. pre-perih.' : 'Obs. post-perih.'"}},
  "shape": {"field": "s", "type": "nominal", "scale": {"domain": ["pre","post"], "range": ["M-1,0L1,0M0,-1L0,1M-0.7,-0.7L0.7,0.7M-0.7,0.7L0.7,-0.7","square"]}, "legend": {"title": null, "legendX": 192.3, "legendY": 4.3, "rowPadding": -1.8, "labelOffset": -20.7, "symbolSize": 40, "labelExpr": "datum.value == 'pre' ? 'Obs. pre-perih.' : 'Obs. post-perih.'"}}
 }},
{"data": {"name": "f2"},
 "mark": {"type": "line", "strokeWidth": 1.5, "clip": true},
 "encoding": {
  "x": {"field": "x", "type": "quantitative", "scale": {"domain": [0.045, 0.55], "nice": false, "zero": false}, "axis": {"orient": "top", "values": [0.1,0.2,0.3,0.4,0.5], "labels": false, "domain": false, "title": null}},
  "y": {"field": "y", "type": "quantitative", "scale": {"domain": [3, 11], "reverse": true, "nice": false, "zero": false}, "axis": {"orient": "right", "values": [3,4,5,6,7,8,9,10,11], "labels": false, "domain": false, "title": null}},
  "color": {"field": "f", "type": "nominal", "scale": {"domain": ["Linear fit (upper envelope)","Linear fit (pre-perih. upper env.)","Linear fit (post-perih. upper env.)"], "range": ["#ff00ff","#00cc00","#00dddd"]}, "legend": {"title": null, "legendX": 193.3, "legendY": 21.7, "labelOffset": -21.7, "symbolType": "M-3.54,0H3.54", "symbolSize": 42.25, "symbolStrokeWidth": 1.5}},
  "strokeDash": {"field": "f", "type": "nominal", "scale": {"domain": ["Linear fit (upper envelope)","Linear fit (pre-perih. upper env.)","Linear fit (post-perih. upper env.)"], "range": [[1.5,2],[5,3],[7,2.5,1.5,2.5]]}, "legend": {"title": null, "legendX": 193.3, "legendY": 21.7, "labelOffset": -21.7, "symbolType": "M-3.54,0H3.54", "symbolSize": 42.25, "symbolStrokeWidth": 1.5}}
 }}
],
"resolve": {"scale": {"color": "independent"}, "axis": {"x": "independent", "y": "independent"}}
}
],
"spacing": 52,
"bounds": "flush",
"resolve": {"scale": {"color": "independent", "shape": "independent", "strokeDash": "independent"}}
},
{
"hconcat": [
{
"width": 219, "height": 131,
"title": {"text": "C/2007 E2 (Lovejoy)"},
"layer": [
{"data": {"name": "d3"},
 "mark": {"type": "point", "filled": false, "size": 45, "strokeWidth": 1, "opacity": 1, "clip": true},
 "encoding": {
  "x": {"field": "x", "type": "quantitative", "scale": {"domain": [0.02, 0.16], "nice": false, "zero": false}, "axis": {"values": [0.02,0.04,0.06,0.08,0.1,0.12,0.14,0.16], "format": "~g", "title": null}},
  "y": {"field": "y", "type": "quantitative", "scale": {"domain": [8, 13], "reverse": true, "nice": false, "zero": false}, "axis": {"values": [8,9,10,11,12,13], "format": "~g", "title": null}},
  "color": {"field": "s", "type": "nominal", "scale": {"domain": ["pre","post"], "range": ["#ff0000","#2828ff"]}, "legend": {"title": null, "legendX": 193.6, "legendY": 92.3, "rowPadding": -1.8, "labelOffset": -21, "symbolSize": 40, "labelExpr": "datum.value == 'pre' ? 'Obs. pre-perih.' : 'Obs. post-perih.'"}},
  "shape": {"field": "s", "type": "nominal", "scale": {"domain": ["pre","post"], "range": ["M-1,0L1,0M0,-1L0,1M-0.7,-0.7L0.7,0.7M-0.7,0.7L0.7,-0.7","square"]}, "legend": {"title": null, "legendX": 193.6, "legendY": 92.3, "rowPadding": -1.8, "labelOffset": -21, "symbolSize": 40, "labelExpr": "datum.value == 'pre' ? 'Obs. pre-perih.' : 'Obs. post-perih.'"}}
 }},
{"data": {"name": "f3"},
 "mark": {"type": "line", "strokeWidth": 1.5, "clip": true},
 "encoding": {
  "x": {"field": "x", "type": "quantitative", "scale": {"domain": [0.02, 0.16], "nice": false, "zero": false}, "axis": {"orient": "top", "values": [0.02,0.04,0.06,0.08,0.1,0.12,0.14,0.16], "labels": false, "domain": false, "title": null}},
  "y": {"field": "y", "type": "quantitative", "scale": {"domain": [8, 13], "reverse": true, "nice": false, "zero": false}, "axis": {"orient": "right", "values": [8,9,10,11,12,13], "labels": false, "domain": false, "title": null}},
  "color": {"field": "f", "type": "nominal", "scale": {"domain": ["Linear fit (upper envelope)","Linear fit (post-perih. upper env.)"], "range": ["#ff00ff","#00dddd"]}, "legend": {"title": null, "legendX": 194.8, "legendY": 110.2, "labelOffset": -22.2, "symbolType": "M-3.54,0H3.54", "symbolSize": 42.25, "symbolStrokeWidth": 1.5}},
  "strokeDash": {"field": "f", "type": "nominal", "scale": {"domain": ["Linear fit (upper envelope)","Linear fit (post-perih. upper env.)"], "range": [[1.5,2],[7,2.5,1.5,2.5]]}, "legend": {"title": null, "legendX": 194.8, "legendY": 110.2, "labelOffset": -22.2, "symbolType": "M-3.54,0H3.54", "symbolSize": 42.25, "symbolStrokeWidth": 1.5}}
 }}
],
"resolve": {"scale": {"color": "independent"}, "axis": {"x": "independent", "y": "independent"}}
},
{
"width": 210, "height": 138,
"title": {"text": "C/1984 S1 (Meier)"},
"layer": [
{"data": {"name": "d4"},
 "mark": {"type": "point", "filled": false, "size": 45, "strokeWidth": 1.2, "opacity": 1, "clip": true},
 "encoding": {
  "x": {"field": "x", "type": "quantitative", "scale": {"domain": [-0.05, 0], "nice": false, "zero": false}, "axis": {"values": [-0.04,-0.03,-0.02,-0.01,0], "format": "~g", "labelExpr": "replace(datum.label, '\u2212', '-')", "title": "log\u2081\u2080[r(UA)]", "titleX": -22.5, "titleY": 17.7, "titleAlign": "center", "titleBaseline": "alphabetic", "titleFontSize": 14.5}},
  "y": {"field": "y", "type": "quantitative", "scale": {"domain": [10, 11.7], "reverse": true, "nice": false, "zero": false}, "axis": {"values": [10,10.2,10.4,10.6,10.8,11,11.2,11.4,11.6], "format": "~g", "title": null}},
  "color": {"field": "s", "type": "nominal", "scale": {"domain": ["pre","post"], "range": ["#ff0000","#2828ff"]}, "legend": {"title": null, "legendX": 177.7, "legendY": 4.6, "rowPadding": -1.8, "labelOffset": -21.7, "symbolSize": 40, "labelExpr": "datum.value == 'pre' ? 'Obs. pre-perih.' : 'Obs. post-perih.'"}},
  "shape": {"field": "s", "type": "nominal", "scale": {"domain": ["pre","post"], "range": ["M-1,0L1,0M0,-1L0,1M-0.7,-0.7L0.7,0.7M-0.7,0.7L0.7,-0.7","square"]}, "legend": {"title": null, "legendX": 177.7, "legendY": 4.6, "rowPadding": -1.8, "labelOffset": -21.7, "symbolSize": 40, "labelExpr": "datum.value == 'pre' ? 'Obs. pre-perih.' : 'Obs. post-perih.'"}}
 }},
{"data": {"name": "f4"},
 "mark": {"type": "line", "strokeWidth": 1.5, "clip": true},
 "encoding": {
  "x": {"field": "x", "type": "quantitative", "scale": {"domain": [-0.05, 0], "nice": false, "zero": false}, "axis": {"orient": "top", "values": [-0.04,-0.03,-0.02,-0.01,0], "labels": false, "domain": false, "title": null}},
  "y": {"field": "y", "type": "quantitative", "scale": {"domain": [10, 11.7], "reverse": true, "nice": false, "zero": false}, "axis": {"orient": "right", "values": [10,10.2,10.4,10.6,10.8,11,11.2,11.4,11.6], "labels": false, "domain": false, "title": null}},
  "color": {"field": "f", "type": "nominal", "scale": {"domain": ["Linear fit (weighted)","Linear fit (pre-perih. weighted)"], "range": ["#ff00ff","#00cc00"]}, "legend": {"title": null, "legendX": 176.9, "legendY": 22, "labelOffset": -20.9, "symbolType": "M-4.31,0H4.31", "symbolSize": 42.25, "symbolStrokeWidth": 1.5}},
  "strokeDash": {"field": "f", "type": "nominal", "scale": {"domain": ["Linear fit (weighted)","Linear fit (pre-perih. weighted)"], "range": [[1.5,2],[5,3]]}, "legend": {"title": null, "legendX": 176.9, "legendY": 22, "labelOffset": -20.9, "symbolType": "M-4.31,0H4.31", "symbolSize": 42.25, "symbolStrokeWidth": 1.5}}
 }}
],
"resolve": {"scale": {"color": "independent"}, "axis": {"x": "independent", "y": "independent"}}
}
],
"spacing": 63,
"bounds": "flush",
"resolve": {"scale": {"color": "independent", "shape": "independent", "strokeDash": "independent"}}
}
]
}
